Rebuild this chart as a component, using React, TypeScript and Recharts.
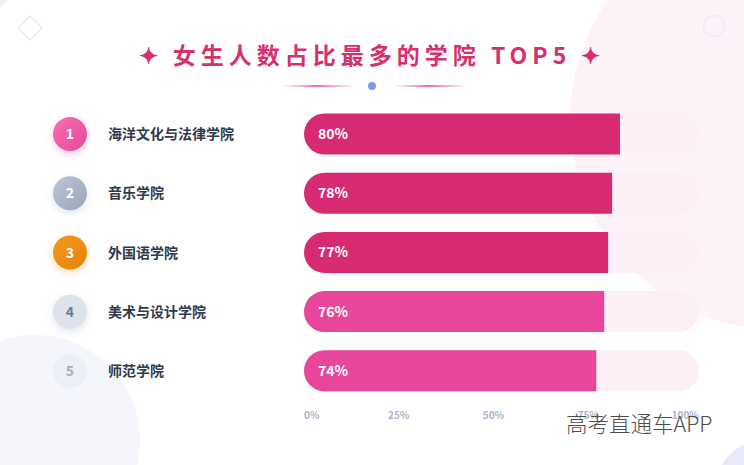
import React from 'react';
import { BarChart, Bar, XAxis, YAxis, Cell, LabelList } from 'recharts';

const colleges = ['海洋文化与法律学院', '音乐学院', '外国语学院', '美术与设计学院', '师范学院'];
const ranks = ['1', '2', '3', '4', '5'];
const shares = [80, 78, 77, 76, 74];
const xTicks = [0, 25, 50, 75, 100];
const titleText = '女生人数占比最多的学院 TOP5';
const watermark = '高考直通车APP';

const data = colleges.map((name, i) => ({ name, rank: ranks[i], value: shares[i] }));

const FONT = '"Noto Sans CJK SC", "Noto Sans", sans-serif';

const rankStyles = [
  { fill: 'url(#rk1)', text: '#ffffff', filter: 'url(#glowPink)' },
  { fill: 'url(#rk2)', text: '#ffffff', filter: 'url(#glowGray)' },
  { fill: 'url(#rk3)', text: '#ffffff', filter: 'url(#glowOrange)' },
  { fill: '#dde2eb', text: '#6b788d', filter: 'url(#glowGray)' },
  { fill: '#eceff5', text: '#a3adbf', filter: undefined },
];

const barFills = ['#d82a72', '#d82a72', '#d82a72', '#e8469a', '#e8469a'];

const YTick = (props: any) => {
  const { y, payload, index } = props;
  const st = rankStyles[index] || rankStyles[4];
  const rank = ranks[index];
  return (
    <g>
      <circle cx={70} cy={y} r={17} fill={st.fill} filter={st.filter} />
      <text x={70} y={y} dy={5} textAnchor="middle" fill={st.text} fontSize={14} fontWeight={700} fontFamily={FONT}>
        {rank}
      </text>
      <text x={108} y={y} dy={5} textAnchor="start" fill="#2f3a4d" fontSize={14} fontWeight={700} fontFamily={FONT}>
        {payload.value}
      </text>
    </g>
  );
};

const XTick = (props: any) => {
  const { x, y, payload, index } = props;
  const anchor = index === 0 ? 'start' : index === xTicks.length - 1 ? 'end' : 'middle';
  const shift = index === 0 || index === xTicks.length - 1 ? 0 : -index * 4;
  return (
    <text x={x + shift} y={y} dy={10} textAnchor={anchor} fill="#a9b4ca" fontSize={10} fontWeight={700} fontFamily={FONT}>
      {payload.value}%
    </text>
  );
};

export default function App() {
  return (
    <div
      style={{
        position: 'absolute',
        left: 0,
        top: 0,
        width: 744,
        height: 465,
        background: '#ffffff',
        overflow: 'hidden',
        fontFamily: FONT,
      }}
    >
      <svg width={0} height={0} style={{ position: 'absolute' }}>
        <defs>
          <linearGradient id="rk1" x1="0" y1="0" x2="1" y2="1">
            <stop offset="0%" stopColor="#f46fb0" />
            <stop offset="100%" stopColor="#e9489a" />
          </linearGradient>
          <linearGradient id="rk2" x1="0" y1="0" x2="1" y2="1">
            <stop offset="0%" stopColor="#bcc6d6" />
            <stop offset="100%" stopColor="#98a5bb" />
          </linearGradient>
          <linearGradient id="rk3" x1="0" y1="0" x2="1" y2="1">
            <stop offset="0%" stopColor="#f39a1c" />
            <stop offset="100%" stopColor="#e5820a" />
          </linearGradient>
          <linearGradient id="lineL" x1="0" y1="0" x2="1" y2="0">
            <stop offset="0%" stopColor="#e9489a" stopOpacity={0} />
            <stop offset="50%" stopColor="#e9489a" stopOpacity={0.8} />
            <stop offset="100%" stopColor="#e9489a" stopOpacity={0.1} />
          </linearGradient>
          <filter id="glowPink" x="-50%" y="-50%" width="200%" height="200%">
            <feDropShadow dx="0" dy="3" stdDeviation="4" floodColor="#f06aa8" floodOpacity="0.35" />
          </filter>
          <filter id="glowGray" x="-50%" y="-50%" width="200%" height="200%">
            <feDropShadow dx="0" dy="3" stdDeviation="4" floodColor="#9aa6bb" floodOpacity="0.3" />
          </filter>
          <filter id="glowOrange" x="-50%" y="-50%" width="200%" height="200%">
            <feDropShadow dx="0" dy="3" stdDeviation="4" floodColor="#ec8b0b" floodOpacity="0.3" />
          </filter>
        </defs>
      </svg>

      {/* background decorations */}
      <div style={{ position: 'absolute', left: 570, top: -90, width: 420, height: 420, borderRadius: '50%', background: '#fdf2f7' }} />
      <div style={{ position: 'absolute', left: -70, top: 335, width: 210, height: 210, borderRadius: '50%', background: '#f4f6fc' }} />
      <div style={{ position: 'absolute', left: 715, top: 440, width: 100, height: 100, borderRadius: '50%', background: '#e8eafa' }} />
      <div style={{ position: 'absolute', left: -30, top: -30, width: 40, height: 40, borderRadius: '50%', background: '#eff0fb' }} />
      <div
        style={{
          position: 'absolute',
          left: 21,
          top: 19,
          width: 16,
          height: 16,
          border: '1.5px solid #f7d9e3',
          transform: 'rotate(45deg)',
        }}
      />
      <div
        style={{
          position: 'absolute',
          left: 703,
          top: 15,
          width: 20,
          height: 20,
          borderRadius: '50%',
          border: '1.5px solid #e6e7f6',
        }}
      />

      {/* title */}
      <div
        style={{
          position: 'absolute',
          left: 0,
          top: 37,
          width: 744,
          textAlign: 'center',
          color: '#d6306e',
          fontSize: 23,
          fontWeight: 700,
          letterSpacing: 5,
          lineHeight: '34px',
          whiteSpace: 'nowrap',
        }}
      >
        ✦ {titleText} ✦
      </div>
      <svg width={744} height={20} style={{ position: 'absolute', left: 0, top: 76 }}>
        <rect x={282} y={9} width={70} height={2} fill="url(#lineL)" />
        <rect x={393} y={9} width={70} height={2} fill="url(#lineL)" />
        <circle cx={372} cy={10} r={4} fill="#7c9fe4" />
      </svg>

      <div style={{ position: 'absolute', left: 0, top: 0 }}>
        <BarChart
          width={744}
          height={465}
          data={data}
          layout="vertical"
          margin={{ top: 104.5, right: 45, bottom: 34.5, left: 34 }}
          barSize={41}
        >
          <XAxis
            type="number"
            domain={[0, 100]}
            ticks={xTicks}
            axisLine={false}
            tickLine={false}
            height={30}
            tick={<XTick />}
            interval={0}
          />
          <YAxis
            type="category"
            dataKey="name"
            width={270}
            axisLine={false}
            tickLine={false}
            tick={<YTick />}
            interval={0}
          />
          <Bar
            dataKey="value"
            isAnimationActive={false}
            radius={[20.5, 0, 0, 20.5]}
            background={{ fill: '#fcf0f6', radius: 20.5 } as any}
          >
            {data.map((d, i) => (
              <Cell key={d.name} fill={barFills[i]} />
            ))}
            <LabelList
              dataKey="value"
              position="insideLeft"
              offset={14}
              fill="#ffffff"
              fontSize={14}
              fontWeight={700}
              fontFamily={FONT}
              formatter={(v: any) => `${v}%`}
            />
          </Bar>
        </BarChart>
      </div>

      {/* watermark */}
      <div
        style={{
          position: 'absolute',
          left: 566,
          top: 407,
          fontSize: 21.5,
          fontWeight: 300,
          color: '#4d4d4d',
          whiteSpace: 'nowrap',
          fontFamily: FONT,
        }}
      >
        {watermark}
      </div>
    </div>
  );
}
